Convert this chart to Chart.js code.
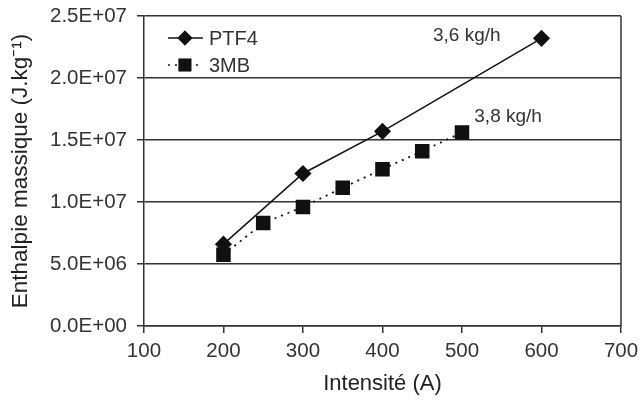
<!DOCTYPE html>
<html>
<head>
<meta charset="utf-8">
<script src="https://cdn.jsdelivr.net/npm/chart.js@4.4.1/dist/chart.umd.min.js"></script>
<style>
  html, body { margin: 0; padding: 0; background: #fff; }
  #wrap { width: 639px; height: 400px; position: relative; }
</style>
</head>
<body>
<div id="wrap"><canvas id="enthalpyChart"></canvas></div>
<script>
// Enthalpie massique vs intensité
const ptf4X = [200, 300, 400, 600];
const ptf4Y = [6.6e6, 1.23e7, 1.57e7, 2.32e7];
const mb3X = [200, 250, 300, 350, 400, 450, 500];
const mb3Y = [5.75e6, 8.3e6, 9.6e6, 1.115e7, 1.265e7, 1.41e7, 1.56e7];
const seriesNames = ['PTF4', '3MB'];
const flowLabels = ['3,6 kg/h', '3,8 kg/h'];
const flowLabelPos = [[506, 2.34e7], [558, 1.69e7]]; // data coords
const xMin = 100, xMax = 700, xStep = 100;
const yMin = 0, yMax = 2.5e7, yStep = 5e6;

const FONT = 'Liberation Sans, Arial, sans-serif';
const INK = '#111';
const TXT = '#333';

function sci(v) {
    if (v === 0) return '0.0E+00';
    const exp = Math.floor(Math.log10(Math.abs(v)));
    const mant = v / Math.pow(10, exp);
    return mant.toFixed(1) + 'E+' + String(exp).padStart(2, '0');
}

function toPoints(xs, ys) {
    return xs.map((x, i) => ({ x: x, y: ys[i] }));
}

// frame, legend and flow-rate labels
const extras = {
    id: 'extras',
    afterDraw(chart) {
        const ctx = chart.ctx;
        const a = chart.chartArea;
        const sx = chart.scales.x, sy = chart.scales.y;
        ctx.save();
        ctx.strokeStyle = '#333';
        ctx.lineWidth = 1.5;
        ctx.beginPath();
        ctx.moveTo(a.right, a.top);
        ctx.lineTo(a.right, a.bottom);
        ctx.stroke();

        // legend inside the plot
        ctx.font = '20px ' + FONT;
        ctx.textBaseline = 'middle';
        ctx.fillStyle = TXT;
        chart.data.datasets.forEach((ds, i) => {
            const y = a.top + 22 + i * 27;
            const x0 = a.left + 24;
            ctx.strokeStyle = INK;
            ctx.lineWidth = 1.5;
            ctx.setLineDash(ds.borderDash || []);
            ctx.beginPath();
            ctx.moveTo(x0, y);
            ctx.lineTo(x0 + 35, y);
            ctx.stroke();
            ctx.setLineDash([]);
            Chart.helpers.drawPoint(ctx, {
                pointStyle: ds.pointStyle,
                radius: ds.pointRadius,
                rotation: 0
            }, x0 + 17, y);
            ctx.fillStyle = INK;
            ctx.fill();
            ctx.fillStyle = TXT;
            ctx.textAlign = 'left';
            ctx.fillText(ds.label, x0 + 41, y + 1);
        });

        // flow-rate annotations
        ctx.font = '19px ' + FONT;
        ctx.textAlign = 'center';
        flowLabels.forEach((t, i) => {
            const p = flowLabelPos[i];
            ctx.fillText(t, sx.getPixelForValue(p[0]), sy.getPixelForValue(p[1]));
        });
        ctx.restore();
    }
};

const ctx = document.getElementById('enthalpyChart').getContext('2d');
new Chart(ctx, {
    type: 'scatter',
    data: {
        datasets: [
            {
                label: seriesNames[0],
                data: toPoints(ptf4X, ptf4Y),
                showLine: true,
                borderColor: INK,
                backgroundColor: INK,
                borderWidth: 1.5,
                pointStyle: 'rectRot',
                pointRadius: 7.5,
                pointHoverRadius: 7.5
            },
            {
                label: seriesNames[1],
                data: toPoints(mb3X, mb3Y),
                showLine: true,
                borderColor: INK,
                backgroundColor: INK,
                borderWidth: 1.8,
                borderDash: [2, 5],
                pointStyle: 'rect',
                pointRadius: 9,
                pointHoverRadius: 9
            }
        ]
    },
    options: {
        responsive: true,
        maintainAspectRatio: false,
        animation: false,
        layout: { autoPadding: false, padding: { top: 16, right: 18, left: 7, bottom: 3 } },
        plugins: {
            legend: { display: false },
            tooltip: { enabled: false }
        },
        scales: {
            x: {
                type: 'linear',
                min: xMin,
                max: xMax,
                afterFit: s => { s.paddingLeft = 0; s.paddingRight = 0; },
                border: { color: '#333', width: 1.5 },
                grid: { drawOnChartArea: false, drawTicks: true, tickLength: 7, color: '#333', lineWidth: 1.5 },
                ticks: { stepSize: xStep, color: TXT, font: { family: FONT, size: 20.5 }, padding: 6, maxRotation: 0 },
                title: { display: true, text: 'Intensité (A)', color: '#222', font: { family: FONT, size: 22 }, padding: { top: 1, bottom: 0 } }
            },
            y: {
                type: 'linear',
                min: yMin,
                max: yMax,
                afterFit: s => { s.paddingTop = 0; s.paddingBottom = 0; },
                border: { color: '#333', width: 1.5 },
                grid: { color: '#333', lineWidth: 1.5, tickLength: 7 },
                ticks: { stepSize: yStep, color: TXT, font: { family: FONT, size: 20.5 }, padding: 10, callback: v => sci(v) },
                title: { display: true, text: 'Enthalpie massique (J.kg⁻¹)', color: '#222', font: { family: FONT, size: 22.5 }, padding: { top: 0, bottom: 6 } }
            }
        }
    },
    plugins: [extras]
});
</script>
</body>
</html>
